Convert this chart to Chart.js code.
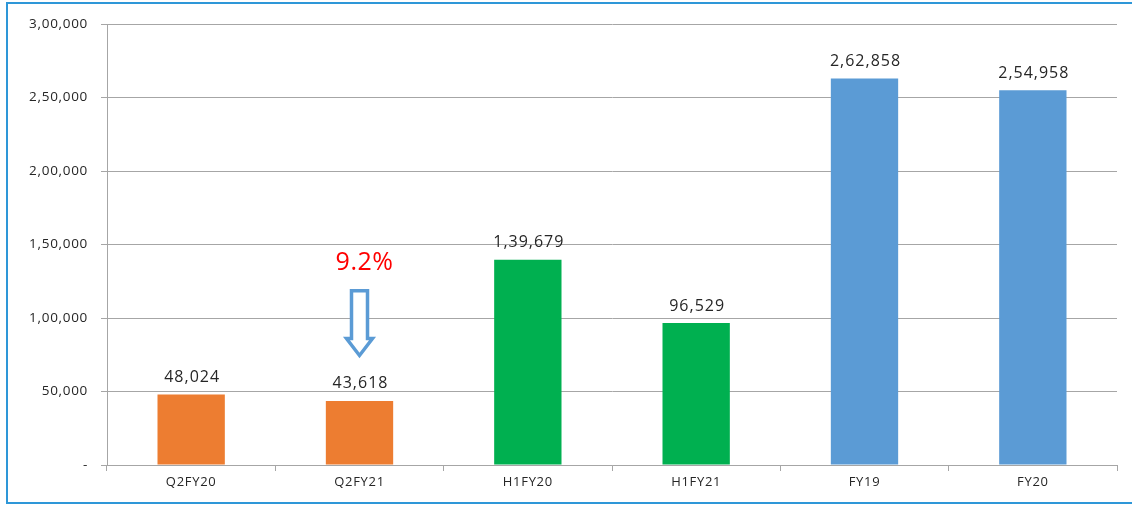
<!DOCTYPE html>
<html><head><meta charset="utf-8">
<script src="https://cdn.jsdelivr.net/npm/chart.js@4/dist/chart.umd.min.js"></script>
<style>html,body{margin:0;padding:0;background:#fff;}#wrap{width:1132px;height:505px;position:relative;}</style>
</head><body><div id="wrap"><canvas id="c" width="1132" height="505"></canvas></div>
<script>
const categories = ["Q2FY20","Q2FY21","H1FY20","H1FY21","FY19","FY20"];
const values = [48024, 43618, 139679, 96529, 262858, 254958];
const barColors = ["#ED7D31","#ED7D31","#00B050","#00B050","#5B9BD5","#5B9BD5"];
const yTickValues = [0, 50000, 100000, 150000, 200000, 250000, 300000];
const yTickLabels = ["-", "50,000", "1,00,000", "1,50,000", "2,00,000", "2,50,000", "3,00,000"];
const changeLabel = "9.2%";

function indian(n){
  const s = String(Math.round(n));
  if (s.length <= 3) return s;
  const last3 = s.slice(-3);
  let rest = s.slice(0, -3);
  const parts = [];
  while (rest.length > 2){ parts.unshift(rest.slice(-2)); rest = rest.slice(0,-2); }
  if (rest.length) parts.unshift(rest);
  return parts.join(",") + "," + last3;
}

const FONT = "'Open Sans', Lato, sans-serif";

const spacing = {
  id: 'spacing',
  beforeDraw(chart){ chart.ctx.letterSpacing = '0.7px'; }
};

const extras = {
  id: 'extras',
  afterDatasetsDraw(chart){
    const ctx = chart.ctx;
    const meta = chart.getDatasetMeta(0);
    ctx.save();
    ctx.letterSpacing = '1px';
    ctx.fillStyle = '#262626';
    ctx.font = "16px " + FONT;
    ctx.textAlign = 'center';
    ctx.textBaseline = 'bottom';
    meta.data.forEach((bar, i) => {
      ctx.fillText(indian(values[i]), bar.x + 1, bar.y - 9);
    });
    // change annotation
    const x = chart.scales.x.getPixelForValue(1);
    const y = chart.scales.y;
    ctx.fillStyle = '#FF0000';
    ctx.font = "25px " + FONT;
    ctx.textBaseline = 'middle';
    ctx.letterSpacing = '0.5px';
    ctx.fillText(changeLabel, x + 5, y.getPixelForValue(137500));
    ctx.letterSpacing = '0px';
    // hollow arrow
    const top = y.getPixelForValue(118500);
    const headStart = y.getPixelForValue(86000);
    const tip = y.getPixelForValue(74500);
    const sw = 8, hw = 13;
    ctx.beginPath();
    ctx.moveTo(x - sw, top);
    ctx.lineTo(x + sw, top);
    ctx.lineTo(x + sw, headStart);
    ctx.lineTo(x + hw, headStart);
    ctx.lineTo(x, tip);
    ctx.lineTo(x - hw, headStart);
    ctx.lineTo(x - sw, headStart);
    ctx.closePath();
    ctx.fillStyle = '#fff';
    ctx.fill();
    ctx.strokeStyle = '#5B9BD5';
    ctx.lineWidth = 3.5;
    ctx.lineJoin = 'miter';
    ctx.stroke();
    // frame
    ctx.strokeStyle = '#2E97D8';
    ctx.lineWidth = 2;
    ctx.strokeRect(7, 3, 1130, 500);
    ctx.restore();
  }
};

new Chart(document.getElementById('c'), {
  type: 'bar',
  data: {
    labels: categories,
    datasets: [{
      data: values,
      backgroundColor: barColors,
      borderWidth: 0,
      barPercentage: 0.4,
      categoryPercentage: 1.0
    }]
  },
  options: {
    responsive: false,
    animation: false,
    events: [],
    layout: { padding: { top: 24, left: 0, right: 15, bottom: 0 } },
    plugins: { legend: { display: false }, tooltip: { enabled: false } },
    scales: {
      x: {
        offset: true,
        grid: { offset: true, drawOnChartArea: false, drawTicks: true, tickLength: 6, color: '#A6A6A6' },
        border: { color: '#A6A6A6', width: 1 },
        ticks: { color: '#262626', font: { family: FONT, size: 13 }, padding: 3 },
        afterFit(s){ s.height = 40; }
      },
      y: {
        min: 0, max: 300000,
        afterBuildTicks(s){ s.ticks = yTickValues.map(v => ({ value: v })); },
        grid: { color: '#A6A6A6', tickLength: 6, drawTicks: true },
        border: { color: '#A6A6A6', width: 1 },
        ticks: {
          color: '#262626', font: { family: FONT, size: 13.5 }, padding: 13,
          callback(v){ const i = yTickValues.indexOf(v); return i >= 0 ? yTickLabels[i] : ''; }
        },
        afterFit(s){ s.width = 107; }
      }
    }
  },
  plugins: [spacing, extras]
});
</script></body></html>
